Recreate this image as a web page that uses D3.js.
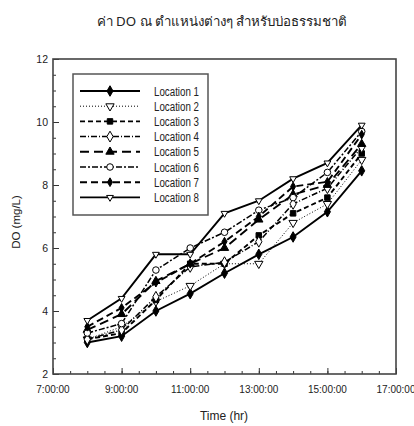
<!DOCTYPE html>
<html><head><meta charset="utf-8">
<script src="https://cdn.jsdelivr.net/npm/d3@7"></script>
<style>body{margin:0;background:#fff;} svg{display:block;}</style>
</head><body>
<svg id="c" width="414" height="426"></svg>
<script>
const hours = [8, 9, 10, 11, 12, 13, 14, 15, 16];
const seriesNames = ["Location 1","Location 2","Location 3","Location 4","Location 5","Location 6","Location 7","Location 8"];
const loc1 = [3.0, 3.2, 4.0, 4.55, 5.2, 5.8, 6.35, 7.15, 8.45];
const loc2 = [3.1, 3.5, 4.3, 4.8, 5.5, 5.5, 6.8, 7.4, 8.8];
const loc3 = [3.1, 3.3, 4.35, 5.5, 5.5, 6.4, 7.1, 7.6, 9.0];
const loc4 = [3.1, 3.4, 4.45, 5.4, 5.55, 6.2, 7.4, 7.9, 9.2];
const loc5 = [3.4, 3.9, 4.95, 5.5, 6.0, 6.9, 7.7, 8.0, 9.3];
const loc6 = [3.3, 3.6, 5.3, 6.0, 6.5, 7.2, 7.6, 8.4, 9.7];
const loc7 = [3.5, 4.1, 4.9, 5.5, 6.2, 7.0, 7.95, 8.1, 9.6];
const loc8 = [3.7, 4.4, 5.8, 5.8, 7.1, 7.5, 8.2, 8.7, 9.9];
const allSeries = [loc1, loc2, loc3, loc4, loc5, loc6, loc7, loc8];
const xTicks = [7, 9, 11, 13, 15, 17];
const yTicks = [2, 4, 6, 8, 10, 12];
const titleText = "ค่า DO ณ ตำแหน่งต่างๆ สำหรับบ่อธรรมชาติ";

const styles = [
  {dash:null, w:1.9, sym:d3.symbolDiamond, fill:"#000", size:32},
  {dash:"1,2", w:1, sym:d3.symbolTriangle, fill:"#fff", size:30, rot:180},
  {dash:"5,3", w:1.9, sym:d3.symbolSquare, fill:"#000", size:30},
  {dash:"6,2,1,2", w:1.5, sym:d3.symbolDiamond, fill:"#fff", size:34},
  {dash:"9,5", w:1.9, sym:d3.symbolTriangle, fill:"#000", size:30},
  {dash:"6,2,2,2", w:1.5, sym:d3.symbolCircle, fill:"#fff", size:34},
  {dash:"7,4", w:1.9, sym:d3.symbolDiamond, fill:"#000", size:22},
  {dash:null, w:1.9, sym:d3.symbolTriangle, fill:"#fff", size:20, rot:180}
];

const svg = d3.select("#c");
const L = 53, R = 396, T = 59, B = 374;
const x = d3.scaleLinear().domain([7, 17]).range([L, R]);
const y = d3.scaleLinear().domain([2, 12]).range([B, T]);
const font = "'Liberation Sans', Arial, sans-serif";

svg.append("text").attr("x", 222).attr("y", 26).attr("text-anchor","middle")
  .attr("font-family","'Noto Sans', 'Liberation Sans', sans-serif").attr("font-size",13.3).attr("fill","#222").text(titleText);

const xMinor = d3.range(7, 17.01, 0.5);
const yMinor = d3.range(2, 12.01, 0.5);
const gx = svg.append("g").attr("transform",`translate(0,${B})`);
gx.call(d3.axisTop(x).tickValues(xMinor).tickSize(3).tickFormat(""));
gx.call(g=>g.selectAll(".domain").remove());
const gx2 = svg.append("g").attr("transform",`translate(0,${B})`);
gx2.call(d3.axisTop(x).tickValues(xTicks).tickSize(6).tickFormat(""));
gx2.call(g=>g.selectAll(".domain").remove());
xTicks.forEach(h=>{
  svg.append("text").attr("x", x(h)).attr("y", B+19).attr("text-anchor","middle")
    .attr("font-family",font).attr("font-size",10).attr("fill","#222").text(`${h}:00:00`);
});
const gy = svg.append("g").attr("transform",`translate(${L},0)`);
gy.call(d3.axisRight(y).tickValues(yMinor).tickSize(3).tickFormat(""));
gy.call(g=>g.selectAll(".domain").remove());
const gy2 = svg.append("g").attr("transform",`translate(${L},0)`);
gy2.call(d3.axisRight(y).tickValues(yTicks).tickSize(6).tickFormat(""));
gy2.call(g=>g.selectAll(".domain").remove());
yTicks.forEach(v=>{
  svg.append("text").attr("x", L-5).attr("y", y(v)+4).attr("text-anchor","end")
    .attr("font-family",font).attr("font-size",10.5).attr("fill","#222").text(v);
});
svg.selectAll(".tick line").attr("stroke","#333");

svg.append("rect").attr("x",L).attr("y",T).attr("width",R-L).attr("height",B-T)
  .attr("fill","none").attr("stroke","#444").attr("stroke-width",1.6);

svg.append("text").attr("x", 224).attr("y", 420).attr("text-anchor","middle")
  .attr("font-family",font).attr("font-size",12).attr("fill","#222").text("Time (hr)");
svg.append("text").attr("transform","translate(20,222) rotate(-90)").attr("text-anchor","middle")
  .attr("font-family",font).attr("font-size",11.5).attr("fill","#222").text("DO (mg/L)");

const line = d3.line().x((d,i)=>x(hours[i])).y(d=>y(d));
allSeries.forEach((s,k)=>{
  const st = styles[k];
  svg.append("path").datum(s).attr("d", line).attr("fill","none").attr("stroke","#000")
    .attr("stroke-width", st.w).attr("stroke-dasharray", st.dash);
  const sym = d3.symbol().type(st.sym).size(st.size);
  svg.append("g").selectAll("path").data(s).join("path")
    .attr("d", sym)
    .attr("transform",(d,i)=>`translate(${x(hours[i])},${y(d)}) rotate(${st.rot||0})`)
    .attr("fill", st.fill).attr("stroke","#000").attr("stroke-width",1);
});

const lg = svg.append("g");
lg.append("rect").attr("x",73).attr("y",74).attr("width",135).attr("height",141)
  .attr("fill","#fff").attr("stroke","#555").attr("stroke-width",1.5);
seriesNames.forEach((n,k)=>{
  const st = styles[k];
  const yy = 91 + k*15.2;
  lg.append("line").attr("x1",80).attr("x2",140).attr("y1",yy).attr("y2",yy)
    .attr("stroke","#000").attr("stroke-width",st.w).attr("stroke-dasharray",st.dash);
  lg.append("path").attr("d", d3.symbol().type(st.sym).size(st.size)())
    .attr("transform",`translate(110,${yy}) rotate(${st.rot||0})`)
    .attr("fill",st.fill).attr("stroke","#000").attr("stroke-width",1);
  lg.append("text").attr("x",154).attr("y",yy+4.5).attr("font-family",font)
    .attr("font-size",12.5).attr("textLength",45).attr("lengthAdjust","spacingAndGlyphs")
    .attr("fill","#222").text(n);
});
</script>
</body></html>
